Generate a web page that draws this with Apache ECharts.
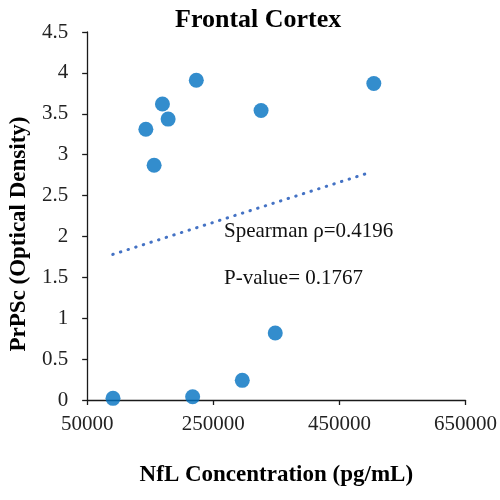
<!DOCTYPE html>
<html>
<head>
<meta charset="utf-8">
<script src="https://cdn.jsdelivr.net/npm/echarts@6/dist/echarts.min.js"></script>
<style>html,body{margin:0;padding:0;background:#fff}#c{width:500px;height:500px}</style>
</head>
<body>
<div id="c"></div>
<script>
// NfL concentration (pg/mL) for each sample
var nflConc = [91000, 217300, 296000, 348300, 143100, 156200, 169400, 178400, 223100, 325800, 504600];
// PrPSc optical density for each sample
var prpscOD = [0.02, 0.04, 0.24, 0.82, 3.31, 2.87, 3.62, 3.435, 3.91, 3.54, 3.87];
// Linear trendline endpoints
var trendX = [90600, 501500];
var trendY = [1.78, 2.79];
var titleText = 'Frontal Cortex';
var xName = 'NfL Concentration (pg/mL)';
var yName = 'PrPSc (Optical Density)';
var annoLines = ['Spearman \u03c1=0.4196', 'P-value= 0.1767'];

var serif = '"Liberation Serif", "Times New Roman", serif';
var points = nflConc.map(function (x, i) { return [x, prpscOD[i]]; });
var trend = trendX.map(function (x, i) { return [x, trendY[i]]; });

var chart = echarts.init(document.getElementById('c'), null, {renderer: 'canvas'});
var axisCommon = {
  axisLine: {show: true, onZero: false, lineStyle: {color: '#1a1a1a', width: 1.3}},
  axisTick: {show: true, inside: false, length: 5, lineStyle: {color: '#1a1a1a', width: 1.3}},
  splitLine: {show: false},
  axisLabel: {fontFamily: serif, fontSize: 21, color: '#222'},
  nameLocation: 'middle',
  nameTextStyle: {fontFamily: serif, fontSize: 23, fontWeight: 'bold', color: '#000'}
};
chart.setOption({
  animation: false,
  backgroundColor: '#fff',
  title: {
    text: titleText, left: 170, top: 2,
    textStyle: {fontFamily: serif, fontSize: 26, fontWeight: 'bold', color: '#000'}
  },
  grid: {left: 86, right: 34, top: 32, bottom: 100},
  xAxis: Object.assign({}, axisCommon, {
    type: 'value', min: 50000, max: 650000, interval: 200000,
    name: xName, nameGap: 64,
    axisLabel: Object.assign({}, axisCommon.axisLabel, {margin: 14, formatter: function (v) { return String(v); }})
  }),
  yAxis: Object.assign({}, axisCommon, {
    type: 'value', min: 0, max: 4.5, interval: 0.5,
    name: yName, nameGap: 50,
    nameTextStyle: Object.assign({}, axisCommon.nameTextStyle, {padding: [0, 36, 0, 0]}),
    axisLabel: Object.assign({}, axisCommon.axisLabel, {margin: 19})
  }),
  series: [
    {
      type: 'line', data: trend, showSymbol: false, symbol: 'none', z: 1,
      lineStyle: {color: '#4472C4', width: 3, type: [0.5, 7.5], cap: 'round'}
    },
    {
      type: 'scatter', data: points, symbolSize: 15, z: 3,
      itemStyle: {color: '#0070C0'}
    }
  ],
  graphic: [
    {type: 'text', left: 224, top: 221, style: {text: annoLines[0], font: '21px ' + serif, fill: '#111'}},
    {type: 'text', left: 224, top: 268, style: {text: annoLines[1], font: '21px ' + serif, fill: '#111'}}
  ]
});
</script>
</body>
</html>
